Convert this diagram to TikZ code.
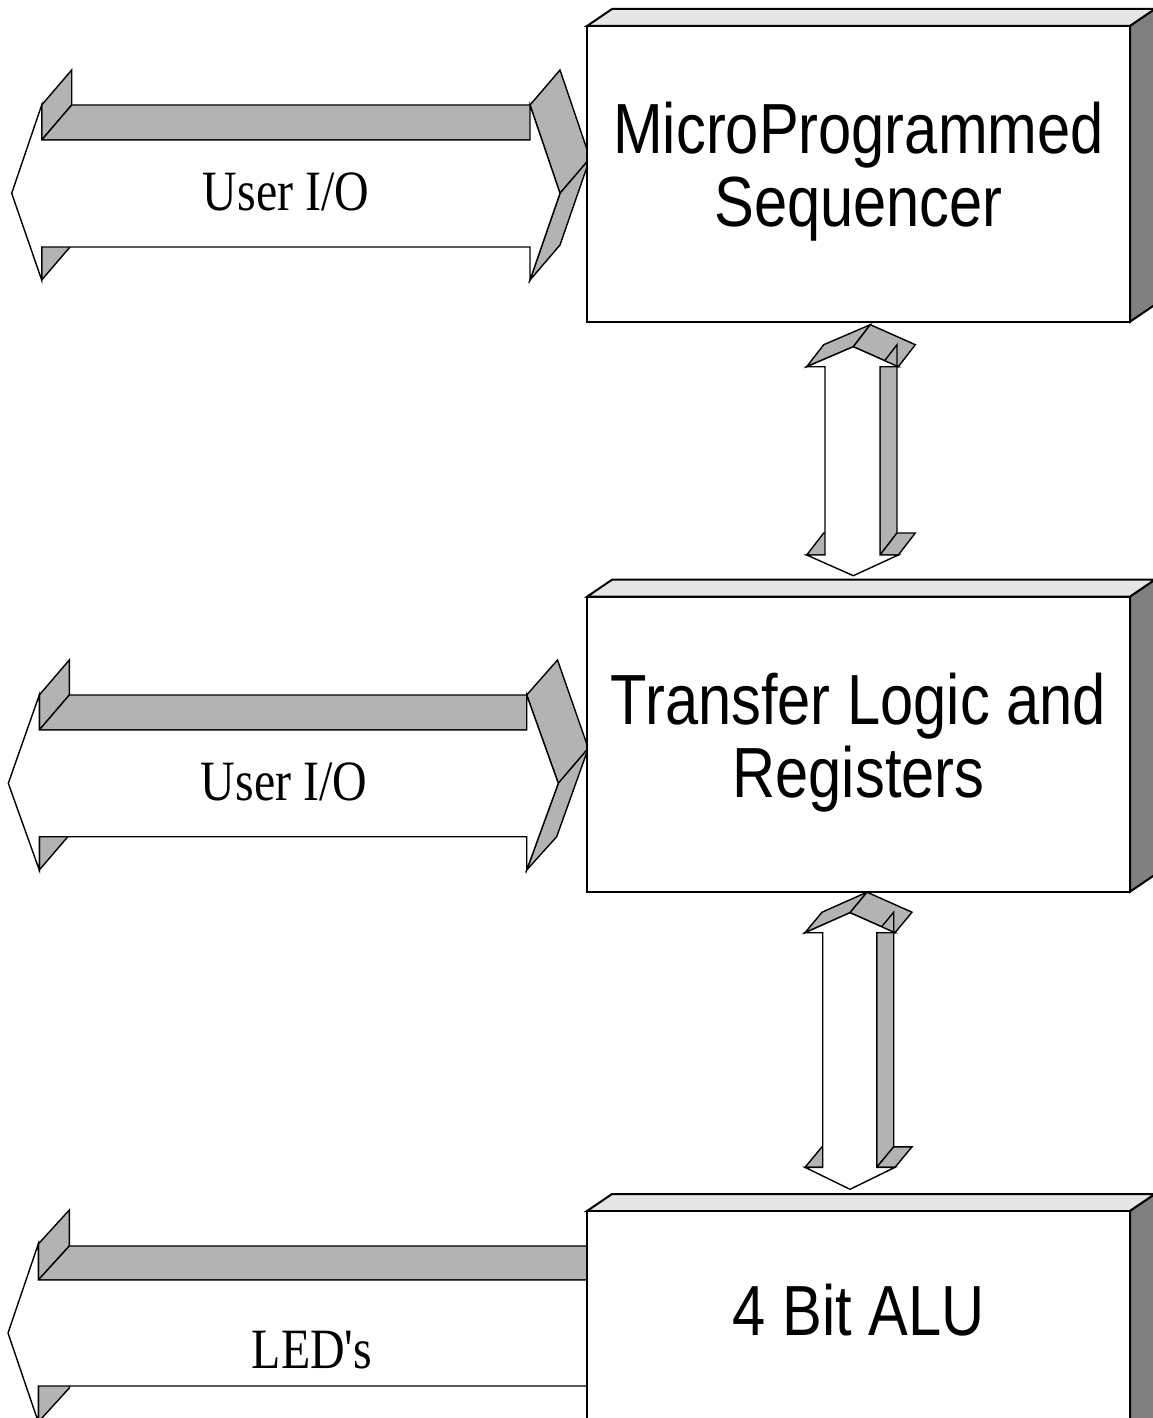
\documentclass[tikz,border=0pt]{standalone}
\usepackage{fontspec}
\usepackage{graphicx}
\newfontfamily\arialf{Liberation Sans}
\newfontfamily\timesf{Liberation Serif}
\newcommand\boxfont{\arialf\fontsize{71}{73.4}\selectfont}
\newcommand\lblfont{\timesf\fontsize{57}{60}\selectfont}
\newcommand\sq[1]{\scalebox{0.84}[1]{#1}}
\definecolor{agray}{RGB}{179,179,179}
\definecolor{blight}{RGB}{230,230,230}
\definecolor{bdark}{RGB}{128,128,128}
\newcommand\drawblock[2]{%
  \path[btop] (587,#1) -- (612,#1-17) -- (1155,#1-17) -- (1130,#1) -- cycle;
  \path[bside] (1130,#1) -- (1155,#1-17) -- (1155,#2-17) -- (1130,#2) -- cycle;
  \path[bfront] (587,#1) rectangle (1130,#2);}
\begin{document}
\begin{tikzpicture}[x=1pt,y=-1pt,
  aface/.style={draw=black,line width=1.4pt,fill=agray},
  afront/.style={draw=black,line width=1.4pt,fill=white},
  btop/.style={draw=black,line width=2pt,fill=blight},
  bside/.style={draw=black,line width=2pt,fill=bdark},
  bfront/.style={draw=black,line width=2pt,fill=white},
  boxtext/.style={font=\boxfont,anchor=base,align=center,inner sep=0pt},
  arrowtext/.style={font=\lblfont,anchor=base,inner sep=0pt}]
\useasboundingbox (0,0) rectangle (1153,1418);
\clip (0,0) rectangle (1153,1418);
\fill[white] (0,0) rectangle (1153,1418);

% ---------- horizontal arrow 1 (User I/O) ----------
\path[aface] (41.7,105) -- (71.7,70) -- (71.7,105) -- (41.7,140) -- cycle;
\path[aface] (41.7,247) -- (71.7,212) -- (71.7,245) -- (41.7,280) -- cycle;
\path[aface] (41.7,140) -- (71.7,105) -- (560,105) -- (530,140) -- cycle;
\path[aface] (530,105) -- (560,70) -- (590,158.3) -- (560,193.3) -- cycle;
\path[aface] (560,193.3) -- (590,158.3) -- (560,245) -- (530,280) -- cycle;
\path[afront] (11.7,193.3) -- (41.7,105) -- (41.7,140) -- (530,140) -- (530,105)
  -- (560,193.3) -- (530,280) -- (530,247) -- (41.7,247) -- (41.7,280) -- cycle;
\node[arrowtext] (io1) at (286,210.7) {\sq{User I/O}};

% ---------- horizontal arrow 2 (User I/O) ----------
\path[aface] (39.3,695) -- (69.3,660) -- (69.3,695) -- (39.3,730) -- cycle;
\path[aface] (39.3,836.7) -- (69.3,801.7) -- (69.3,835) -- (39.3,870) -- cycle;
\path[aface] (39.3,730) -- (69.3,695) -- (556.7,695) -- (526.7,730) -- cycle;
\path[aface] (526.7,695) -- (557.5,660) -- (588.3,748.3) -- (558.3,783.3) -- cycle;
\path[aface] (558.3,783.3) -- (588.3,748.3) -- (556.7,836.7) -- (526.7,870) -- cycle;
\path[afront] (8.3,783.3) -- (39.3,695) -- (39.3,730) -- (526.7,730) -- (526.7,695)
  -- (558.3,783.3) -- (526.7,870) -- (526.7,836.7) -- (39.3,836.7) -- (39.3,870) -- cycle;
\node[arrowtext] (io2) at (284,800.7) {\sq{User I/O}};

% ---------- horizontal arrow 3 (LED's) ----------
\path[aface] (38.3,1244) -- (69.3,1210) -- (69.3,1246) -- (38.3,1280) -- cycle;
\path[aface] (38.3,1386) -- (69.3,1352) -- (69.3,1388) -- (38.3,1422) -- cycle;
\path[aface] (38.3,1280) -- (69.3,1246) -- (620,1246) -- (620,1280) -- cycle;
\path[afront] (8,1333) -- (38.3,1244) -- (38.3,1280) -- (620,1280) -- (620,1386)
  -- (38.3,1386) -- (38.3,1422) -- cycle;
\node[arrowtext] (leds) at (312,1368.3) {\sq{LED's}};

% ---------- vertical arrow 1 ----------
\path[aface] (806.7,366.7) -- (823.7,344.7) -- (870.3,324.7) -- (853.3,346.7) -- cycle;
\path[aface] (853.3,346.7) -- (870.3,324.7) -- (915.3,344.7) -- (898.3,366.7) -- cycle;
\path[aface] (880,366.7) -- (897,344.7) -- (897,533) -- (880,555) -- cycle;
\path[aface] (806.7,555) -- (823.7,533) -- (842,533) -- (825,555) -- cycle;
\path[aface] (880,555) -- (897,533) -- (915.3,533) -- (898.3,555) -- cycle;
\path[afront] (806.7,366.7) -- (853.3,346.7) -- (898.3,366.7) -- (880,366.7) -- (880,555)
  -- (898.3,555) -- (853.3,575.7) -- (806.7,555) -- (825,555) -- (825,366.7) -- cycle;

% ---------- vertical arrow 2 ----------
\path[aface] (805,932.7) -- (822,912.2) -- (867,892.2) -- (850,912.7) -- cycle;
\path[aface] (850,912.7) -- (867,892.2) -- (912,912.2) -- (895,932.7) -- cycle;
\path[aface] (876.7,932.7) -- (893.7,912.2) -- (893.7,1146.8) -- (876.7,1167.3) -- cycle;
\path[aface] (805,1167.3) -- (822,1146.8) -- (839.7,1146.8) -- (822.7,1167.3) -- cycle;
\path[aface] (876.7,1167.3) -- (893.7,1146.8) -- (912,1146.8) -- (895,1167.3) -- cycle;
\path[afront] (805,932.7) -- (850,912.7) -- (895,932.7) -- (876.7,932.7) -- (876.7,1167.3)
  -- (895,1167.3) -- (850,1189.3) -- (805,1167.3) -- (822.7,1167.3) -- (822.7,932.7) -- cycle;

% ---------- blocks ----------
\drawblock{26}{321.7}
\node[boxtext] (seq) at (858.5,226.7) {\sq{MicroProgrammed}\\\sq{Sequencer}};
\drawblock{596.7}{891.7}
\node[boxtext] (tlr) at (858.5,797.4) {\sq{Transfer Logic and}\\\sq{Registers}};
\drawblock{1211}{1506}
\node[boxtext] (alu) at (858.5,1335) {\sq{4 Bit ALU}};
\end{tikzpicture}
\end{document}
